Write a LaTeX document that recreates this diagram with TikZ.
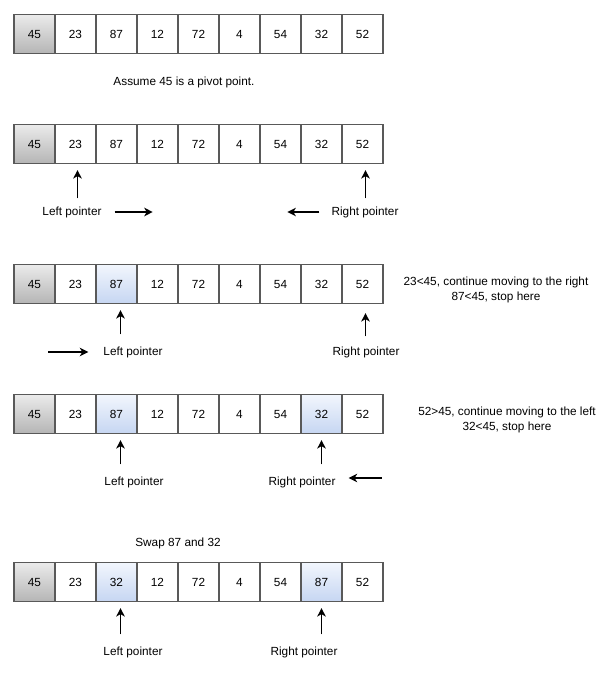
\documentclass[tikz,border=0pt]{standalone}
\usepackage{fontspec}
\setmainfont{Liberation Sans}
\usetikzlibrary{arrows.meta,positioning}

\definecolor{edgegray}{HTML}{595959}
\definecolor{pivtop}{HTML}{EBEBEB}
\definecolor{pivbot}{HTML}{B5B5B5}
\definecolor{hittop}{HTML}{F2F6FD}
\definecolor{hitbot}{HTML}{C6D6F2}

% one row of the array: prefix, y of the centre, value/style list
\newcommand{\qsrow}[3]{%
  \foreach \v/\s [count=\i] in {#3}
    \node[\s] (#1\i) at ({34.5+41*(\i-1)},#2) {\v};
}

\begin{document}
\begin{tikzpicture}[x=1pt,y=-1pt,
  txt/.style={font=\fontsize{11.8}{14.5}\selectfont,inner sep=0pt},
  cell/.style={txt,draw=edgegray,line width=1.1pt,minimum width=41pt,minimum height=39pt},
  pivot/.style={cell,top color=pivtop,bottom color=pivbot},
  hit/.style={cell,top color=hittop,bottom color=hitbot},
  ptr/.style={-{Stealth[length=8.5pt,width=8.5pt,inset=2.5pt]},line width=1.7pt}]
\useasboundingbox (0,0) rectangle (608,677);

% start
\qsrow{a}{34}{45/pivot,23/cell,87/cell,12/cell,72/cell,4/cell,54/cell,32/cell,52/cell}
\node[txt] (note1) at (184,82) {Assume 45 is a pivot point.};

% pointers at both ends
\qsrow{b}{144}{45/pivot,23/cell,87/cell,12/cell,72/cell,4/cell,54/cell,32/cell,52/cell}
\node[txt] (lp2) at (72,212) {Left pointer};
\node[txt] (rp2) at (365,212) {Right pointer};
\draw[ptr,shorten <=8pt,shorten >=6pt] ([xshift=2pt]b2.south |- lp2.north) -- ([xshift=2pt]b2.south);
\draw[ptr,shorten <=8pt,shorten >=6pt] ([xshift=3pt]b9.south |- rp2.north) -- ([xshift=3pt]b9.south);
\draw[ptr] ([xshift=13pt]lp2.east) -- ++(38,0);
\draw[ptr] ([xshift=-12pt]rp2.west) -- ++(-32,0);

% left pointer moves
\qsrow{c}{284}{45/pivot,23/cell,87/hit,12/cell,72/cell,4/cell,54/cell,32/cell,52/cell}
\node[txt] (lp3) at (133,352) {Left pointer};
\node[txt] (rp3) at (366,352) {Right pointer};
\draw[ptr,shorten <=12pt,shorten >=6pt] ([xshift=4pt]c3.south |- lp3.north) -- ([xshift=4pt]c3.south);
\draw[ptr,shorten <=10pt,shorten >=9pt] ([xshift=3pt]c9.south |- rp3.north) -- ([xshift=3pt]c9.south);
\draw[ptr] ([xshift=-55pt]lp3.west) -- ([xshift=-15pt]lp3.west);
\node[txt,align=center] (note3) at (496,290) {23<45, continue moving to the right\\87<45, stop here};

% right pointer moves
\qsrow{d}{414}{45/pivot,23/cell,87/hit,12/cell,72/cell,4/cell,54/cell,32/hit,52/cell}
\node[txt] (lp4) at (134,482) {Left pointer};
\node[txt] (rp4) at (302,482) {Right pointer};
\draw[ptr,shorten <=12pt,shorten >=6pt] ([xshift=4pt]d3.south |- lp4.north) -- ([xshift=4pt]d3.south);
\draw[ptr,shorten <=12pt,shorten >=6pt] (d8.south |- rp4.north) -- (d8.south);
\draw[ptr] ([xshift=46pt,yshift=4pt]rp4.east) -- ([xshift=13pt,yshift=4pt]rp4.east);
\node[txt,align=center] (note4) at (507,420) {52>45, continue moving to the left\\32<45, stop here};

% after the swap
\node[txt] (note5) at (178,543) {Swap 87 and 32};
\qsrow{e}{582}{45/pivot,23/cell,32/hit,12/cell,72/cell,4/cell,54/cell,87/hit,52/cell}
\node[txt] (lp5) at (133,652) {Left pointer};
\node[txt] (rp5) at (304,652) {Right pointer};
\draw[ptr,shorten <=12pt,shorten >=6pt] ([xshift=4pt]e3.south |- lp5.north) -- ([xshift=4pt]e3.south);
\draw[ptr,shorten <=12pt,shorten >=6pt] (e8.south |- rp5.north) -- (e8.south);
\end{tikzpicture}
\end{document}
